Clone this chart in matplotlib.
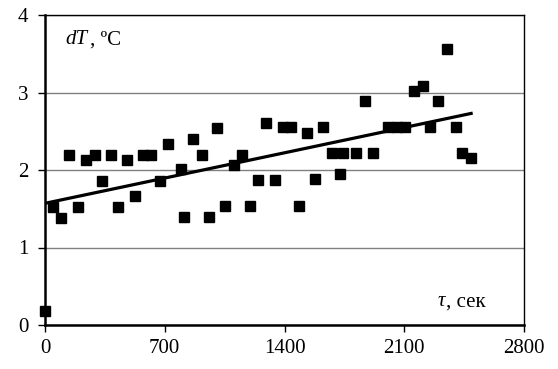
import matplotlib
matplotlib.use("Agg")
import matplotlib.pyplot as plt
import numpy as np

# time, sec
tau = [0, 49, 93, 142, 194, 239, 290, 336, 385, 428, 478, 525, 574, 622, 671,
       721, 797, 815, 865, 916, 957, 1007, 1052, 1103, 1153, 1198, 1246, 1289,
       1343, 1390, 1439, 1483, 1532, 1579, 1627, 1676, 1723, 1740, 1818, 1871,
       1915, 2007, 2057, 2106, 2156, 2207, 2252, 2300, 2347, 2401, 2440, 2491]
# temperature difference, C
dT = [0.18, 1.52, 1.38, 2.19, 1.52, 2.13, 2.19, 1.86, 2.20, 1.52, 2.13, 1.66, 2.20,
      2.20, 1.86, 2.34, 2.01, 1.40, 2.40, 2.20, 1.40, 2.54, 1.53, 2.07, 2.20, 1.53,
      1.87, 2.61, 1.87, 2.55, 2.55, 1.54, 2.48, 1.88, 2.55, 2.22, 1.95, 2.22, 2.22,
      2.89, 2.22, 2.55, 2.55, 2.55, 3.02, 3.08, 2.55, 2.89, 3.56, 2.55, 2.22, 2.15]

# trend line ends
trend_x = [0, 2491]
trend_y = [1.57, 2.73]

plt.rcParams['font.family'] = ['Liberation Serif', 'DejaVu Serif']

fig = plt.figure(figsize=(5.58, 3.69), dpi=100)
ax = fig.add_axes([45/558, 44/369, 479/558, 310/369])

ax.set_xlim(0, 2800)
ax.set_ylim(0, 4)
ax.set_xticks([0, 700, 1400, 2100, 2800])
ax.set_yticks([0, 1, 2, 3, 4])
ax.yaxis.grid(True, color='#808080', linewidth=1.0)
ax.set_axisbelow(True)

ax.plot(tau, dT, 's', color='black', markersize=7, clip_on=False, zorder=3)
ax.plot(trend_x, trend_y, '-', color='black', linewidth=2.3, zorder=2)

for s in ['left', 'bottom']:
    ax.spines[s].set_linewidth(1.8)
for s in ['top', 'right']:
    ax.spines[s].set_linewidth(1.0)

ax.tick_params(axis='x', labelsize=15, length=5, width=1.0, direction='out', pad=5)
ax.tick_params(axis='y', labelsize=15, length=5, width=1.0, direction='out', pad=7)

ax.text(0.042, 0.92, 'dT', transform=ax.transAxes, fontsize=15,
        style='italic', va='center')
ax.text(0.093, 0.92, ', \u00baC', transform=ax.transAxes, fontsize=15, va='center')
ax.text(0.82, 0.075, '\u03c4', transform=ax.transAxes, fontsize=15,
        style='italic', va='center')
ax.text(0.838, 0.075, ', сек', transform=ax.transAxes, fontsize=15, va='center')

fig.savefig('out.png', dpi=100)
